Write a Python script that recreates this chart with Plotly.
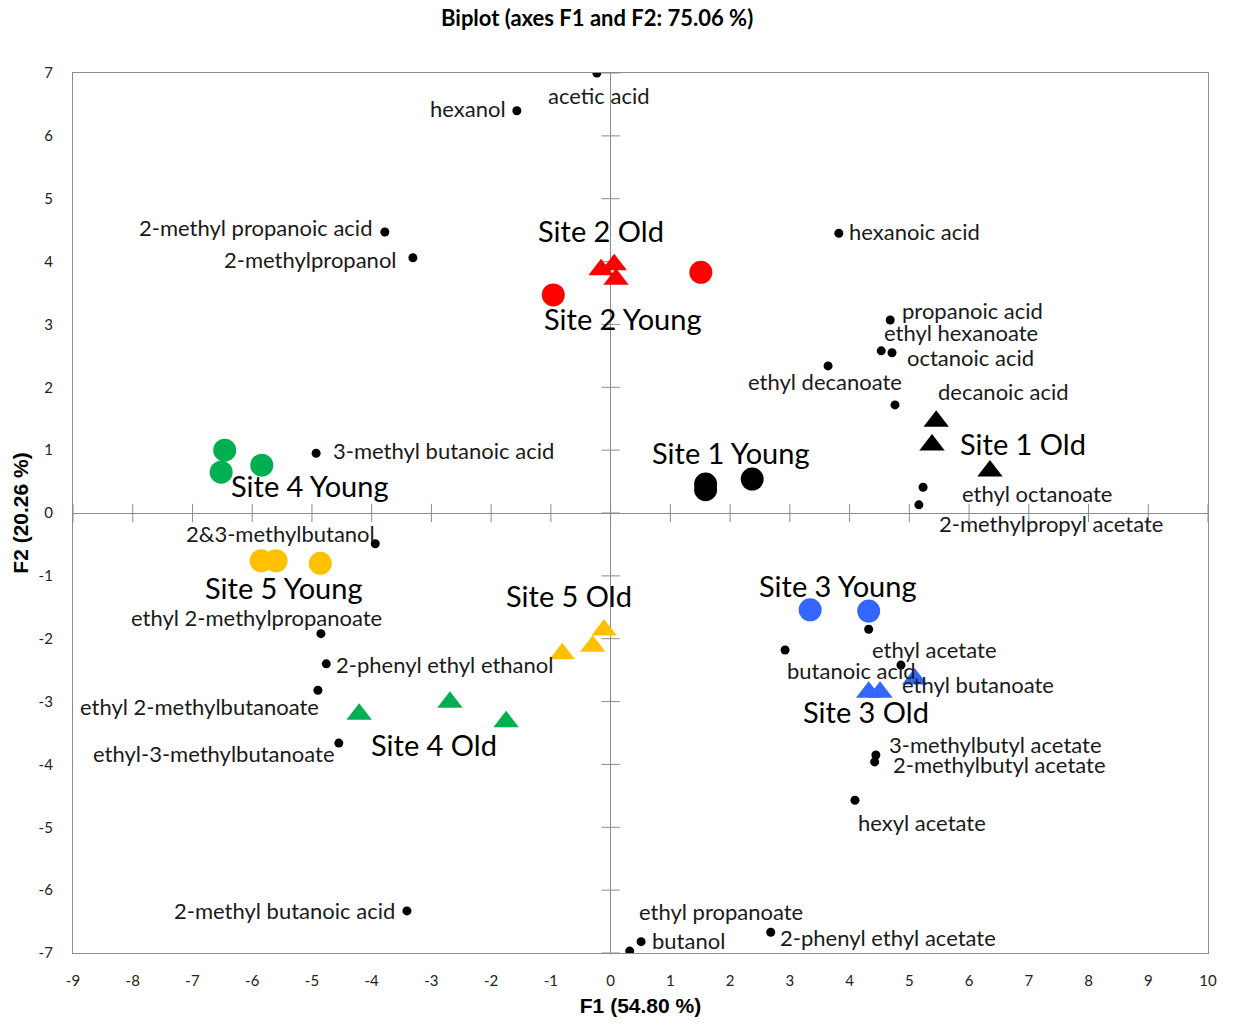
import plotly.graph_objects as go

# ---------------- data ----------------
var_names = ["acetic acid", "hexanol", "2-methyl propanoic acid", "2-methylpropanol",
             "hexanoic acid", "propanoic acid", "ethyl hexanoate", "octanoic acid",
             "ethyl decanoate", "decanoic acid", "ethyl octanoate", "2-methylpropyl acetate",
             "3-methyl butanoic acid", "2&3-methylbutanol", "ethyl 2-methylpropanoate",
             "2-phenyl ethyl ethanol", "ethyl 2-methylbutanoate", "ethyl-3-methylbutanoate",
             "2-methyl butanoic acid", "ethyl propanoate", "butanol", "2-phenyl ethyl acetate",
             "hexyl acetate", "3-methylbutyl acetate", "2-methylbutyl acetate",
             "ethyl acetate", "butanoic acid", "ethyl butanoate"]
var_f1 = [-0.23, -1.57, -3.78, -3.31, 3.82, 4.68, 4.53, 4.71, 3.64, 4.76, 5.23, 5.16,
          -4.93, -3.94, -4.85, -4.76, -4.90, -4.55, -3.41, 0.32, 0.51, 2.68,
          4.09, 4.44, 4.42, 4.32, 2.92, 4.86]
var_f2 = [7.00, 6.40, 4.47, 4.06, 4.45, 3.07, 2.58, 2.55, 2.34, 1.72, 0.41, 0.13,
          0.95, -0.49, -1.92, -2.40, -2.82, -3.66, -6.33, -6.97, -6.82, -6.67,
          -4.57, -3.85, -3.96, -1.85, -2.18, -2.42]

site_names = ["Site 1", "Site 2", "Site 3", "Site 4", "Site 5"]
young_f1 = {"Site 1": [1.59, 1.59, 2.37], "Site 2": [-0.96, 1.51], "Site 3": [3.34, 4.32],
            "Site 4": [-6.46, -6.52, -5.84], "Site 5": [-5.85, -5.60, -4.86]}
young_f2 = {"Site 1": [0.46, 0.37, 0.54], "Site 2": [3.47, 3.83], "Site 3": [-1.54, -1.56],
            "Site 4": [1.00, 0.65, 0.76], "Site 5": [-0.76, -0.76, -0.80]}
old_f1 = {"Site 1": [5.45, 5.38, 6.35], "Site 2": [-0.16, 0.06, 0.09], "Site 3": [4.32, 4.51, 5.09],
          "Site 4": [-4.21, -2.69, -1.75], "Site 5": [-0.81, -0.30, -0.11]}
old_f2 = {"Site 1": [1.46, 1.08, 0.67], "Site 2": [3.87, 3.95, 3.72], "Site 3": [-2.85, -2.85, -2.64],
          "Site 4": [-3.20, -3.01, -3.32], "Site 5": [-2.24, -2.12, -1.86]}

x_ticks = list(range(-9, 11))
x_tick_labels = ["-9", "-8", "-7", "-6", "-5", "-4", "-3", "-2", "-1", "0",
                 "1", "2", "3", "4", "5", "6", "7", "8", "9", "10"]
y_ticks = list(range(-7, 8))
y_tick_labels = ["-7", "-6", "-5", "-4", "-3", "-2", "-1", "0",
                 "1", "2", "3", "4", "5", "6", "7"]

# ---------------- styles ----------------
site_colors = {"Site 1": "#000000", "Site 2": "#FF0000", "Site 3": "#3366FF",
               "Site 4": "#00B050", "Site 5": "#FFC000"}
# variable label placement: (xanchor, xshift px, yshift px)
var_label_pos = [("center", 2, -22), ("right", -9, 2), ("right", -11, 5), ("right", -14, -2),
                 ("left", 8, 2), ("left", 10, 10), ("left", 1, 18), ("left", 13, -5),
                 ("center", -3, -16), ("left", 41, 13), ("left", 37, -6), ("left", 18, -19),
                 ("left", 15, 3), ("right", 2, 10), ("right", 63, 16),
                 ("left", 8, -1), ("right", 3, -16), ("right", -2, -10),
                 ("right", -10, 0), ("left", 7, 40), ("left", 9, 1), ("left", 7, -5),
                 ("left", 1, -22), ("left", 11, 11), ("left", 16, -3),
                 ("left", 1, -20), ("left", 0, -20), ("left", -1, -19)]
# site group label positions (data coords)
site_label_pos = {("Site 1", "Young"): (2.01, 0.97), ("Site 1", "Old"): (6.90, 1.11),
                  ("Site 2", "Young"): (0.21, 3.10), ("Site 2", "Old"): (-0.16, 4.49),
                  ("Site 3", "Young"): (3.81, -1.15), ("Site 3", "Old"): (4.27, -3.15),
                  ("Site 4", "Young"): (-5.03, 0.43), ("Site 4", "Old"): (-2.96, -3.69),
                  ("Site 5", "Young"): (-5.47, -1.18), ("Site 5", "Old"): (-0.70, -1.32)}

FONT = "Lato"
AXIS_GRAY = "#8C8C8C"

fig = go.Figure()

# zero-line cross ticks
fig.add_trace(go.Scatter(x=x_ticks, y=[0] * len(x_ticks), mode="markers",
                         marker=dict(symbol="line-ns", size=13, line=dict(width=1, color=AXIS_GRAY)),
                         hoverinfo="skip", showlegend=False))
fig.add_trace(go.Scatter(x=[0] * len(y_ticks), y=y_ticks, mode="markers",
                         marker=dict(symbol="line-ew", size=13, line=dict(width=1, color=AXIS_GRAY)),
                         hoverinfo="skip", showlegend=False))

# observations
for s in site_names:
    c = site_colors[s]
    fig.add_trace(go.Scatter(x=young_f1[s], y=young_f2[s], mode="markers",
                             marker=dict(symbol="circle", size=23, color=c, line=dict(width=0)),
                             showlegend=False, name=s + " Young"))
    fig.add_trace(go.Scatter(x=old_f1[s], y=old_f2[s], mode="markers",
                             marker=dict(symbol="triangle-up", size=22, color=c, line=dict(width=0)),
                             showlegend=False, name=s + " Old"))

# variables
fig.add_trace(go.Scatter(x=var_f1, y=var_f2, mode="markers",
                         marker=dict(symbol="circle", size=9, color="black"),
                         text=var_names, showlegend=False, name="variables"))

annotations = []
for name, xv, yv, (anc, dx, dy) in zip(var_names, var_f1, var_f2, var_label_pos):
    annotations.append(dict(x=xv, y=yv, xref="x", yref="y", text=name, showarrow=False,
                            xanchor=anc, yanchor="middle", xshift=dx, yshift=dy,
                            font=dict(family=FONT, size=22, color="#1a1a1a")))
for (s, age), (lx, ly) in site_label_pos.items():
    annotations.append(dict(x=lx, y=ly, xref="x", yref="y", text=f"{s} {age}", showarrow=False,
                            xanchor="center", yanchor="middle",
                            font=dict(family=FONT, size=29, color="#000000")))

annotations.append(dict(x=0.4617, y=1.0, xref="paper", yref="paper", yshift=56,
                        text="<b>Biplot (axes F1 and F2: 75.06 %)</b>", showarrow=False,
                        xanchor="center", yanchor="middle",
                        font=dict(family=FONT, size=22, color="black")))

fig.update_layout(
    width=1234, height=1025,
    margin=dict(l=73, r=26, t=73, b=72),
    plot_bgcolor="white", paper_bgcolor="white",
    annotations=annotations,
    font=dict(family=FONT),
)
fig.update_xaxes(range=[-9, 10], tickvals=x_ticks, ticktext=x_tick_labels,
                 showgrid=False, zeroline=True,
                 zerolinecolor=AXIS_GRAY, zerolinewidth=1.3,
                 showline=True, linecolor=AXIS_GRAY, linewidth=1.3, mirror=True,
                 ticks="", ticklabelstandoff=14,
                 tickfont=dict(family=FONT, size=15, color="#222"),
                 title=dict(text="<b>F1 (54.80 %)</b>", standoff=10,
                            font=dict(family="Liberation Sans", size=21, color="black")))
fig.update_yaxes(range=[-7, 7], tickvals=y_ticks, ticktext=y_tick_labels,
                 showgrid=False, zeroline=True,
                 zerolinecolor=AXIS_GRAY, zerolinewidth=1.3,
                 showline=True, linecolor=AXIS_GRAY, linewidth=1.3, mirror=True,
                 ticks="", ticklabelstandoff=16,
                 tickfont=dict(family=FONT, size=15, color="#222"),
                 title=dict(text="<b>F2 (20.26 %)</b>", standoff=4,
                            font=dict(family="Liberation Sans", size=21, color="black")))

fig.write_html("out.html")
